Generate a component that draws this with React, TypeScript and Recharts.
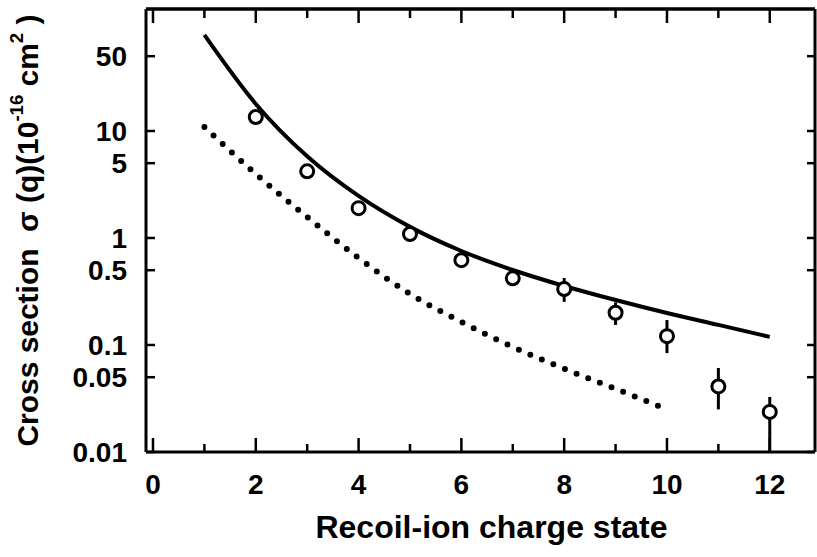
import React from 'react';
import { ComposedChart, Line, Scatter, XAxis, YAxis, ErrorBar } from 'recharts';

// Measured cross sections (open circles)
const charges = [2, 3, 4, 5, 6, 7, 8, 9, 10, 11, 12];
const measured = [13.5, 4.2, 1.9, 1.09, 0.62, 0.42, 0.333, 0.2, 0.121, 0.041, 0.0237];
const errLow = [0.4, 0.15, 0.07, 0.04, 0.03, 0.03, 0.08, 0.046, 0.037, 0.016, 0.0136];
const errHigh = [0.4, 0.15, 0.07, 0.04, 0.03, 0.03, 0.09, 0.05, 0.05, 0.02, 0.009];

// Theory curves
const solidQ = [1, 2, 3, 4, 5, 6, 7, 8, 9, 10, 11, 12];
const solidV = [79, 17.9, 5.8, 2.47, 1.27, 0.756, 0.502, 0.356, 0.263, 0.199, 0.154, 0.119];
const dottedQ = [1, 2, 3, 4, 5, 6, 7, 8, 9, 10];
const dottedV = [10.9, 3.96, 1.57, 0.65, 0.3, 0.164, 0.096, 0.06, 0.039, 0.025];

// Axis ticks
const xLabelTicks = [0, 2, 4, 6, 8, 10, 12];
const xMinorTicks = [1, 3, 5, 7, 9, 11];
const yTicks = [0.01, 0.05, 0.1, 0.5, 1, 5, 10, 50];

const X_DOMAIN: [number, number] = [-0.136, 12.88];
const Y_DOMAIN: [number, number] = [0.01, 138];

const measuredData = charges.map((q, i) => ({ q, v: measured[i], err: [errLow[i], errHigh[i]] }));
const solidData = solidQ.map((q, i) => ({ q, v: solidV[i] }));
const dottedData = dottedQ.map((q, i) => ({ q, v: dottedV[i] }));

const FONT = "'Liberation Sans', Arial, Helvetica, sans-serif";

const XTitle = (props: any) => {
  const vb = props.viewBox || { x: 0, y: 0, width: 0, height: 0 };
  return (
    <text
      x={vb.x + vb.width / 2 + 11}
      y={vb.y + 86}
      textAnchor="middle"
      fontFamily={FONT}
      fontWeight="bold"
      fontSize={32}
      fill="#000"
    >
      Recoil-ion charge state
    </text>
  );
};

const YTitle = (props: any) => {
  const vb = props.viewBox || { x: 0, y: 0, width: 0, height: 0 };
  const x = vb.x + 38;
  const y = vb.y + vb.height / 2;
  return (
    <text
      x={x}
      y={y}
      transform={`rotate(-90 ${x} ${y})`}
      textAnchor="middle"
      fontFamily={FONT}
      fontWeight="bold"
      fontSize={29}
      fill="#000"
      textLength={432}
      lengthAdjust="spacingAndGlyphs"
      style={{ whiteSpace: 'pre' }}
    >
      {'Cross section  \u03C3 (q)(10'}
      <tspan dy={-15} fontSize={18}>-16</tspan>
      <tspan dy={15} fontSize={29}>{' cm'}</tspan>
      <tspan dy={-15} fontSize={18}>2</tspan>
      <tspan dy={15} fontSize={29}>{' )'}</tspan>
    </text>
  );
};

const OpenCircle = (props: any) => {
  const { cx, cy } = props;
  if (cx == null || cy == null) return <g />;
  return <circle cx={cx} cy={cy} r={6.5} fill="#fff" stroke="#000" strokeWidth={3} />;
};

const Nothing = () => <g />;

export default function App() {
  const tickStyle = { fontFamily: FONT, fontWeight: 'bold' as const, fontSize: 28, fill: '#000' };
  const tl = { stroke: '#000', strokeWidth: 2.5 };
  return (
    <div style={{ position: 'absolute', left: 0, top: 0, background: '#fff' }}>
      <ComposedChart
        width={817}
        height={557}
        margin={{ top: 9, right: 2, bottom: 0, left: 0 }}
      >
        {/* main bottom axis with labels */}
        <XAxis
          xAxisId="b"
          dataKey="q"
          type="number"
          domain={X_DOMAIN}
          allowDataOverflow
          ticks={xLabelTicks}
          interval={0}
          tickLine={false}
          tickSize={0}
          tickMargin={22}
          axisLine={{ stroke: '#000', strokeWidth: 3 }}
          tick={tickStyle}
          height={105}
          label={<XTitle />}
        />
        {/* inward major ticks bottom */}
        <XAxis
          xAxisId="bmaj"
          dataKey="q"
          type="number"
          domain={X_DOMAIN}
          allowDataOverflow
          ticks={xLabelTicks}
          interval={0}
          mirror
          height={1}
          tick={<Nothing />}
          axisLine={false}
          tickSize={14}
          tickLine={tl}
        />
        {/* inward minor ticks bottom */}
        <XAxis
          xAxisId="bmin"
          dataKey="q"
          type="number"
          domain={X_DOMAIN}
          allowDataOverflow
          ticks={xMinorTicks}
          interval={0}
          mirror
          height={1}
          tick={<Nothing />}
          axisLine={false}
          tickSize={7}
          tickLine={tl}
        />
        {/* top frame with inward ticks */}
        <XAxis
          xAxisId="tmaj"
          dataKey="q"
          type="number"
          orientation="top"
          domain={X_DOMAIN}
          allowDataOverflow
          ticks={xLabelTicks}
          interval={0}
          mirror
          height={1}
          tick={<Nothing />}
          axisLine={{ stroke: '#000', strokeWidth: 3.5 }}
          tickSize={14}
          tickLine={tl}
        />
        <XAxis
          xAxisId="tmin"
          dataKey="q"
          type="number"
          orientation="top"
          domain={X_DOMAIN}
          allowDataOverflow
          ticks={xMinorTicks}
          interval={0}
          mirror
          height={1}
          tick={<Nothing />}
          axisLine={false}
          tickSize={8}
          tickLine={tl}
        />
        {/* main left axis with labels */}
        <YAxis
          yAxisId="l"
          scale="log"
          type="number"
          domain={Y_DOMAIN}
          allowDataOverflow
          ticks={yTicks}
          interval={0}
          tickLine={false}
          tickSize={0}
          tickMargin={19}
          axisLine={{ stroke: '#000', strokeWidth: 3 }}
          tick={tickStyle}
          width={146}
          label={<YTitle />}
        />
        {/* inward ticks left */}
        <YAxis
          yAxisId="lm"
          scale="log"
          type="number"
          domain={Y_DOMAIN}
          allowDataOverflow
          ticks={yTicks}
          interval={0}
          mirror
          width={1}
          tick={<Nothing />}
          axisLine={false}
          tickSize={9}
          tickLine={tl}
        />
        {/* right frame with inward ticks */}
        <YAxis
          yAxisId="rm"
          orientation="right"
          scale="log"
          type="number"
          domain={Y_DOMAIN}
          allowDataOverflow
          ticks={yTicks}
          interval={0}
          mirror
          width={1}
          tick={<Nothing />}
          axisLine={{ stroke: '#000', strokeWidth: 3 }}
          tickSize={8}
          tickLine={tl}
        />

        {/* error bars (drawn under the circles) */}
        <Scatter
          xAxisId="b"
          yAxisId="l"
          data={measuredData}
          dataKey="v"
          shape={<Nothing />}
          isAnimationActive={false}
        >
          <ErrorBar dataKey="err" direction="y" width={0} stroke="#000" strokeWidth={3} />
        </Scatter>

        <Line
          xAxisId="b"
          yAxisId="l"
          data={solidData}
          dataKey="v"
          type="monotone"
          stroke="#000"
          strokeWidth={4}
          dot={false}
          activeDot={false}
          isAnimationActive={false}
        />
        <Line
          xAxisId="b"
          yAxisId="l"
          data={dottedData}
          dataKey="v"
          type="monotone"
          stroke="#000"
          strokeWidth={6}
          strokeDasharray="0 12.5"
          strokeLinecap="round"
          dot={false}
          activeDot={false}
          isAnimationActive={false}
        />
        <Scatter
          xAxisId="b"
          yAxisId="l"
          data={measuredData}
          dataKey="v"
          shape={<OpenCircle />}
          isAnimationActive={false}
        />
      </ComposedChart>
    </div>
  );
}
